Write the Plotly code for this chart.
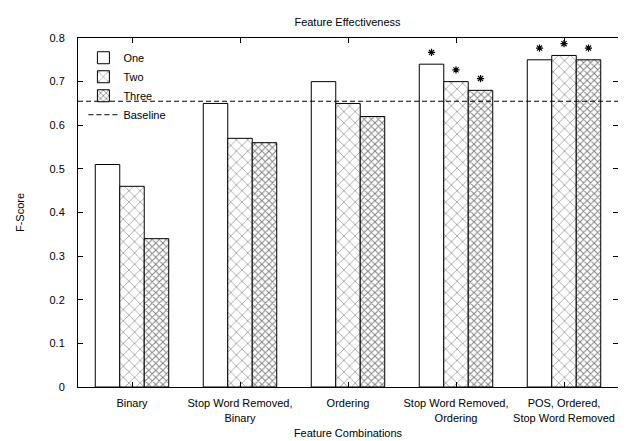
import plotly.graph_objects as go

categories = ["Binary", "Stop Word Removed,<br>Binary", "Ordering",
              "Stop Word Removed,<br>Ordering", "POS, Ordered,<br>Stop Word Removed"]
series_names = ["One", "Two", "Three"]
one = [0.51, 0.65, 0.70, 0.74, 0.75]
two = [0.46, 0.57, 0.65, 0.70, 0.76]
three = [0.34, 0.56, 0.62, 0.68, 0.75]
significant_one = [False, False, False, True, True]
significant_two = [False, False, False, True, True]
significant_three = [False, False, False, True, True]
baseline = 0.655
y_ticks = [0, 0.1, 0.2, 0.3, 0.4, 0.5, 0.6, 0.7, 0.8]
star_offset = 0.027

FONT = "Liberation Sans, Arial, sans-serif"

patterns = [
    dict(shape=""),
    dict(shape="x", size=8, solidity=0.15, fgcolor="black", bgcolor="white"),
    dict(shape="x", size=5, solidity=0.35, fgcolor="black", bgcolor="white"),
]

fig = go.Figure()
for name, vals, pat in zip(series_names, [one, two, three], patterns):
    fig.add_trace(go.Bar(
        x=categories, y=vals, name=name, offsetgroup=name,
        marker=dict(color="white", line=dict(color="black", width=1), pattern=pat),
    ))

fig.add_trace(go.Scatter(
    x=[None], y=[None], mode="lines", name="Baseline",
    line=dict(color="black", width=1, dash="5px,3px"),
))

for name, vals, sig in zip(series_names, [one, two, three],
                           [significant_one, significant_two, significant_three]):
    fig.add_trace(go.Scatter(
        x=categories, y=[v + star_offset if s else None for v, s in zip(vals, sig)],
        mode="markers", offsetgroup=name, showlegend=False,
        marker=dict(symbol="asterisk-open", size=6, color="black",
                    line=dict(color="black", width=1.2)),
        hoverinfo="skip",
    ))

fig.add_shape(type="line", xref="paper", x0=0, x1=1, yref="y", y0=baseline, y1=baseline,
              line=dict(color="black", width=1, dash="5px,3px"))

fig.update_layout(
    width=626, height=441,
    margin=dict(l=69, r=16, t=30, b=51),
    paper_bgcolor="white", plot_bgcolor="white",
    barmode="group", bargap=0.32, bargroupgap=0,
    scattermode="group",
    font=dict(family=FONT, size=11, color="black"),
    title=dict(text="Feature Effectiveness", x=0.5 * (69 + 610) / 626, xanchor="center",
               y=1 - 14 / 441, yanchor="middle", font=dict(size=11)),
    showlegend=True,
    legend=dict(x=0.01, y=0.985, xanchor="left", yanchor="top", bgcolor="rgba(0,0,0,0)",
                font=dict(size=11), tracegroupgap=0, itemwidth=30),
)
fig.update_xaxes(
    showline=True, linecolor="black", linewidth=1, mirror="ticks",
    ticks="inside", ticklen=5, tickcolor="black", showgrid=False,
    range=[-0.5, 4.5], ticklabelstandoff=6,
    title=dict(text="Feature Combinations", standoff=6, font=dict(size=11)),
)
fig.update_yaxes(
    showline=True, linecolor="black", linewidth=1, mirror="ticks",
    ticks="inside", ticklen=5, tickcolor="black", showgrid=False, zeroline=False,
    range=[0, 0.8], tickvals=y_ticks, ticktext=[f"{t:g}" for t in y_ticks],
    ticklabelstandoff=10,
    title=dict(text="F-Score", standoff=22, font=dict(size=11)),
)

fig.write_html("out.html")
